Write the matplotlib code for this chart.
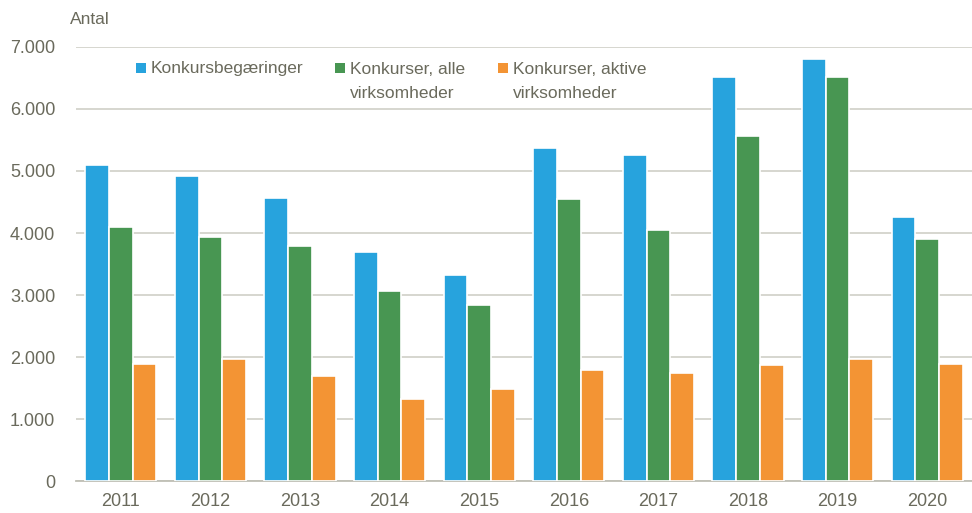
import matplotlib
matplotlib.use("Agg")
import matplotlib.pyplot as plt
from matplotlib.patches import Rectangle
import numpy as np

years = ["2011", "2012", "2013", "2014", "2015", "2016", "2017", "2018", "2019", "2020"]
begaeringer = [5100, 4920, 4570, 3700, 3320, 5370, 5250, 6510, 6810, 4260]
alle = [4100, 3935, 3790, 3065, 2840, 4545, 4045, 5565, 6510, 3900]
aktive = [1890, 1965, 1695, 1325, 1485, 1785, 1745, 1870, 1965, 1885]

series_names = ["Konkursbegæringer", "Konkurser, alle\nvirksomheder", "Konkurser, aktive\nvirksomheder"]
colors = ["#27A3DD", "#489652", "#F39434"]
text_color = "#6A6A5C"
grid_color = "#D3D3CB"

plt.rcParams['font.family'] = ['Liberation Sans', 'DejaVu Sans']

W, H = 972, 513
fig = plt.figure(figsize=(W / 100, H / 100), dpi=100)
ax = fig.add_axes([76 / W, 1 - 481 / H, (W - 76) / W, (481 - 47) / H])

x = np.arange(len(years))
w = 0.265
for i, (vals, name, c) in enumerate(zip([begaeringer, alle, aktive], series_names, colors)):
    ax.bar(x + (i - 1) * w, vals, width=w, color=c, edgecolor="white", linewidth=1.2, label=name, zorder=3)

ax.set_xlim(-0.5, len(years) - 0.5)
ax.set_ylim(0, 7000)
ax.set_yticks(np.arange(0, 7001, 1000))
ax.set_yticklabels(["0" if v == 0 else f"{v//1000}.{v%1000:03d}" for v in range(0, 7001, 1000)])
ax.set_xticks(x)
ax.set_xticklabels(years)
ax.grid(axis="y", color=grid_color, linewidth=1.3, zorder=0)
ax.set_axisbelow(True)
for s in ["top", "right", "left"]:
    ax.spines[s].set_visible(False)
ax.spines["bottom"].set_color("#BFBFB5")
ax.spines["bottom"].set_linewidth(1.3)
ax.tick_params(axis="both", length=0, labelsize=13, colors=text_color)
ax.tick_params(axis="y", pad=15)
ax.tick_params(axis="x", pad=9)

fig.text(70 / W, 1 - 20 / H, "Antal", fontsize=12.5, color=text_color, va="center", ha="left")

# Manual legend (square handle aligned with first text line)
legend_x = [136, 335, 498]
for lx, name, c in zip(legend_x, series_names, colors):
    fig.add_artist(Rectangle((lx / W, 1 - 73 / H), 10 / W, 10 / H, transform=fig.transFigure,
                             facecolor=c, edgecolor="none"))
    for j, line in enumerate(name.split("\n")):
        fig.text((lx + 15) / W, 1 - (69 + 24 * j) / H, line, fontsize=12.5, color=text_color,
                 va="center", ha="left")

fig.savefig("out.png", dpi=100)
